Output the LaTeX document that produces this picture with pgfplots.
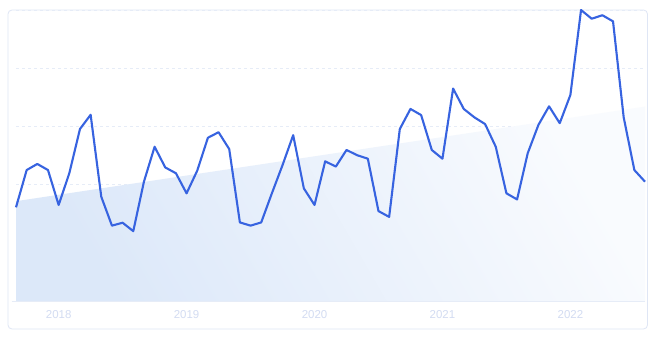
\documentclass[border=0pt]{standalone}
\usepackage{pgfplots}
\pgfplotsset{compat=1.18}
\usepackage{fontspec}
\setmainfont{Liberation Sans}
\definecolor{lineblue}{HTML}{3763E0}
\definecolor{gridc}{HTML}{E6ECF7}
\definecolor{cardc}{HTML}{DFE6F5}
\definecolor{labc}{HTML}{D3DCF2}
\definecolor{fillA}{HTML}{DCE8F9}
\definecolor{fillB}{HTML}{F9FBFE}
\begin{document}
\begin{tikzpicture}[x=1bp,y=1bp]
\useasboundingbox (0,0) rectangle (656,338);
\fill[white] (0,0) rectangle (656,338);
\draw[cardc, line width=0.8bp, rounded corners=4bp] (8,9) rectangle (647.5,328);
\begin{axis}[
  at={(16bp,37bp)}, anchor=origin,
  scale only axis, width=629bp, height=291bp,
  xmin=0, xmax=59, ymin=0, ymax=100,
  axis line style={draw=none},
  xtick={4,16,28,40,52},
  xticklabels={2018,2019,2020,2021,2022},
  ytick={20,40,60,80,100},
  yticklabels={},
  major tick length=0pt,
  ymajorgrids,
  grid style={gridc, dash pattern=on 3bp off 3bp, line width=0.6bp},
  xticklabel style={font=\fontsize{11.5}{13}\selectfont, text=labc, yshift=-5.5bp},
  clip=false,
]
\addplot[draw=none, left color=fillA, right color=fillB, shading angle=120] coordinates {(0,34.3) (59,66.8)} \closedcycle;
\addplot[draw=gridc, line width=0.8bp] coordinates {(-0.4,0) (59,0)};
\addplot[lineblue, line width=2.1bp, line join=round, mark=none] coordinates {
(0,32.2) (1,45.0) (2,47.1) (3,45.0) (4,33.0) (5,43.9) (6,59.1) (7,64.0) (8,35.8) (9,25.9)
(10,26.9) (11,24.0) (12,41.0) (13,53.0) (14,45.9) (15,43.9) (16,37.0) (17,44.8) (18,56.1) (19,58.0)
(20,52.2) (21,27.0) (22,25.9) (23,27.0) (24,37.0) (25,46.7) (26,57.0) (27,38.7) (28,33.0) (29,48.0)
(30,46.2) (31,51.9) (32,50.1) (33,48.9) (34,30.9) (35,28.9) (36,59.1) (37,66.0) (38,63.9) (39,51.9)
(40,48.9) (41,73.0) (42,66.0) (43,63.1) (44,60.8) (45,53.0) (46,37.0) (47,34.9) (48,50.8) (49,60.5)
(50,66.9) (51,61.1) (52,70.8) (53,100) (54,97.0) (55,98.2) (56,96.1) (57,63.1) (58,45.0) (59,41.0)
};
\end{axis}
\end{tikzpicture}
\end{document}
